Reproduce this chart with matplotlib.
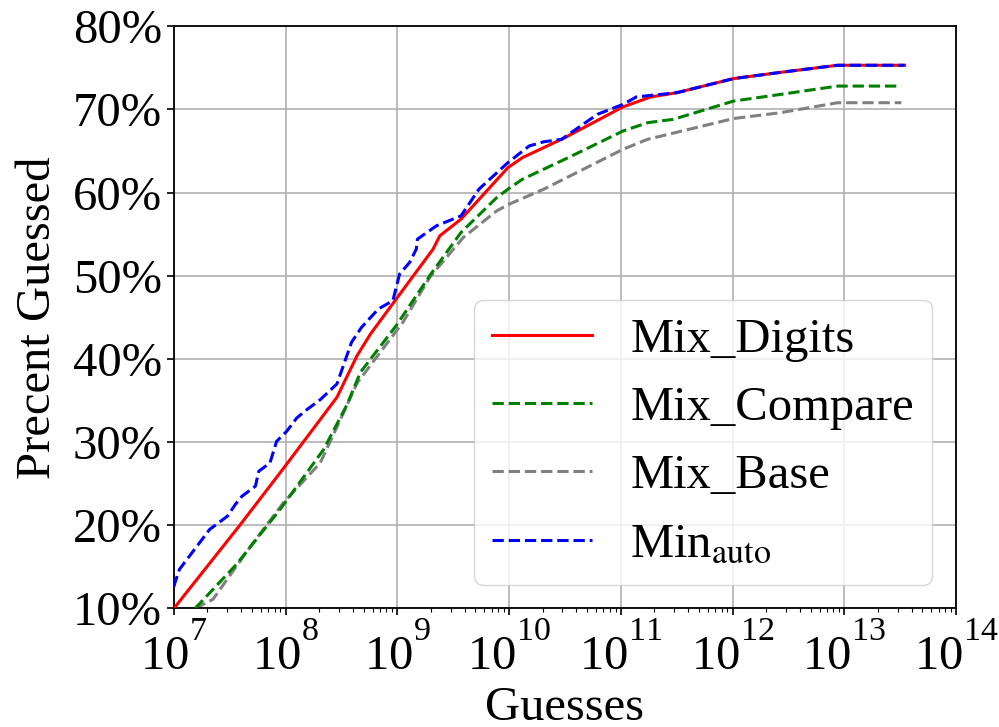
import numpy as np
import matplotlib
matplotlib.use("Agg")
import matplotlib.pyplot as plt
from matplotlib.ticker import FuncFormatter, LogLocator, MultipleLocator

# Raise superscripts (exponents of the log tick labels) like the reference
try:
    import matplotlib._mathtext as _mt
    for _name in dir(_mt):
        _obj = getattr(_mt, _name)
        if isinstance(_obj, type) and issubclass(_obj, _mt.FontConstantsBase):
            _obj.sup1 = 1.3
except Exception:
    pass

plt.rcParams['font.family'] = ['Liberation Serif', 'DejaVu Serif']
plt.rcParams['mathtext.fontset'] = 'stix'

# log10(guesses) and percent guessed
digits_x = [7.0, 7.59, 7.99, 8.46, 8.64, 8.76, 8.99, 9.32, 9.38, 9.57, 9.99, 10.12, 10.50,
            11.02, 11.27, 11.50, 12.01, 12.46, 12.94, 13.54]
digits_y = [10.0, 20.0, 27.0, 35.4, 40.4, 43.0, 47.2, 53.2, 54.8, 56.8, 63.0, 64.2, 66.6,
            70.3, 71.5, 72.0, 73.7, 74.5, 75.3, 75.3]

compare_x = [7.19, 7.56, 7.95, 8.34, 8.55, 8.67, 8.99, 9.30, 9.57, 9.89, 10.0, 10.12, 10.53,
             11.02, 11.24, 11.47, 12.01, 12.43, 12.94, 13.51]
compare_y = [10.0, 15.3, 21.9, 29.1, 34.5, 38.4, 44.0, 50.2, 55.2, 59.4, 60.5, 61.6, 64.2,
             67.4, 68.4, 68.8, 71.0, 71.8, 72.8, 72.8]

base_x = [7.19, 7.35, 7.71, 7.98, 8.31, 8.49, 8.64, 8.87, 9.05, 9.29, 9.59, 9.89, 10.0,
          10.31, 11.02, 11.24, 12.01, 12.43, 12.94, 13.51]
base_y = [10.0, 11.1, 17.9, 22.7, 27.5, 32.7, 37.1, 41.2, 44.4, 49.8, 54.6, 57.8, 58.6,
          60.4, 65.2, 66.4, 68.9, 69.6, 70.8, 70.8]

min_x = [7.0, 7.01, 7.05, 7.23, 7.32, 7.48, 7.55, 7.61, 7.73, 7.76, 7.86, 7.92, 8.01, 8.10,
         8.19, 8.31, 8.46, 8.59, 8.68, 8.83, 8.96, 9.02, 9.11, 9.17, 9.18, 9.35, 9.57, 9.73,
         9.99, 10.18, 10.31, 10.47, 10.79, 11.02, 11.14, 11.50, 12.01, 12.46, 12.94, 13.54]
min_y = [12.6, 13.1, 14.7, 17.9, 19.5, 21.1, 22.5, 23.5, 24.7, 26.5, 27.5, 30.1, 31.3, 32.9,
         33.9, 35.1, 37.0, 42.0, 43.8, 46.0, 47.0, 50.2, 51.6, 53.2, 54.4, 56.0, 57.2, 60.4,
         63.6, 65.6, 66.1, 66.4, 69.4, 70.6, 71.5, 72.0, 73.7, 74.5, 75.3, 75.3]

labels = ['Mix_Digits', 'Mix_Compare', 'Mix_Base', r'Min$_{\mathrm{auto}}$']

fig = plt.figure(figsize=(9.99, 7.27), dpi=100)
ax = fig.add_axes([0.174, 0.163, 0.783, 0.801])

def tx(v):
    return np.power(10.0, np.array(v))

ax.plot(tx(digits_x), digits_y, color='red', lw=2.2, ls='-', label=labels[0], zorder=4)
ax.plot(tx(compare_x), compare_y, color='green', lw=2.2, ls='--', label=labels[1], zorder=3)
ax.plot(tx(base_x), base_y, color='gray', lw=2.2, ls='--', label=labels[2], zorder=2)
ax.plot(tx(min_x), min_y, color='blue', lw=2.2, ls='--', label=labels[3], zorder=5)

ax.set_xscale('log')
ax.set_xlim(1e7, 1e14)
ax.set_ylim(10, 80)
ax.xaxis.set_major_locator(LogLocator(base=10, numticks=20))
ax.xaxis.set_minor_locator(LogLocator(base=10, subs=np.arange(2, 10), numticks=100))
ax.yaxis.set_major_locator(MultipleLocator(10))
ax.yaxis.set_major_formatter(FuncFormatter(lambda v, p: f'{int(round(v))}%'))
ax.grid(True, which='major', color='#b0b0b0', lw=1.2)
ax.set_axisbelow(True)

fs = 35
ax.tick_params(axis='both', which='major', labelsize=fs, length=5, width=1.2)
ax.tick_params(axis='x', which='major', pad=6)
ax.tick_params(axis='x', which='minor', length=3, width=0.8)
for s in ax.spines.values():
    s.set_linewidth(1.3)

ax.set_xlabel('Guesses', fontsize=fs, labelpad=5)
ax.set_ylabel('Precent Guessed', fontsize=fs, labelpad=9)

leg = ax.legend(loc='lower right', fontsize=fs, frameon=True, framealpha=0.8,
                handlelength=2.06, handletextpad=0.78, borderpad=0.37, labelspacing=0.5,
                borderaxespad=0, bbox_to_anchor=(0.969, 0.041))

fig.savefig('out.png', dpi=100)
